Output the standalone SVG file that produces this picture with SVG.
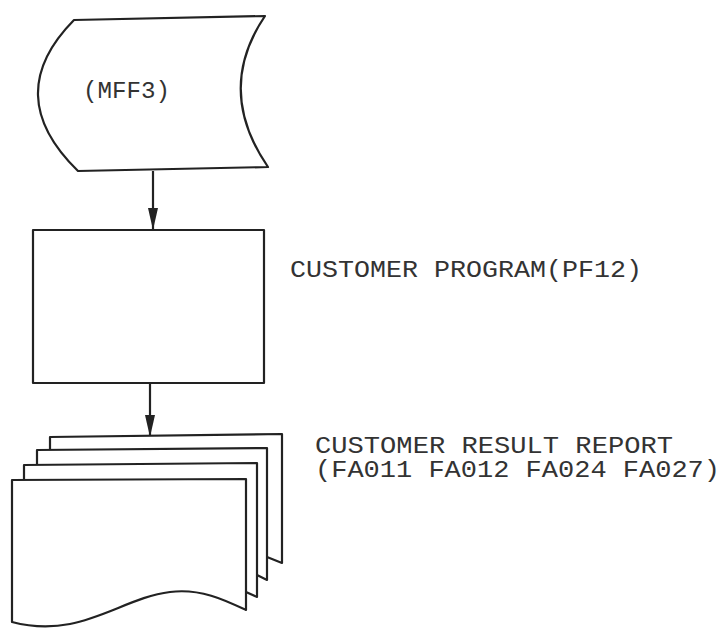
<svg xmlns="http://www.w3.org/2000/svg" width="723" height="630" viewBox="0 0 723 630">
<style>
.s{fill:#fff;stroke:#222;stroke-width:2.2;stroke-linejoin:round}
.l{fill:none;stroke:#222;stroke-width:2.2}
.t{font-family:"Liberation Mono","Courier New",monospace;font-size:23px;fill:#333}
</style>
<defs>
<marker id="ah" markerWidth="22" markerHeight="10" refX="22" refY="5" orient="auto" markerUnits="userSpaceOnUse" viewBox="0 0 22 10">
<path d="M0,0 L22,5 L0,10 Z" fill="#222"/>
</marker>
</defs>
<rect width="723" height="630" fill="#fff"/>
<g id="connectors">
<line class="l" x1="153" y1="171" x2="153" y2="230" marker-end="url(#ah)"/>
<line class="l" x1="150" y1="383" x2="150" y2="437" marker-end="url(#ah)"/>
</g>
<g id="mff3">
<path class="s" d="M74,20 L265,16 Q215,90 268,167 L78,171 Q0,95 74,20 Z"/>
<text class="t" x="83" y="98" textLength="87" lengthAdjust="spacingAndGlyphs">(MFF3)</text>
</g>
<g id="program">
<rect class="s" x="33" y="230" width="231" height="153"/>
<text class="t" x="290" y="277" textLength="352" lengthAdjust="spacingAndGlyphs">CUSTOMER PROGRAM(PF12)</text>
</g>
<g id="report">
<path class="s" d="M50,450 L50,437 L282,434 L282,563 L267,557"/>
<path class="s" d="M37,465 L37,450 L267,448 L267,580 L257,575"/>
<path class="s" d="M24,480 L24,465 L257,463 L257,597 L246,592"/>
<path class="s" d="M12,480 L246,479 L246,610 C225,600 200,588 170,592 C120,598 80,640 12,622 Z"/>
<text class="t" x="315" y="453" textLength="358" lengthAdjust="spacingAndGlyphs">CUSTOMER RESULT REPORT</text>
<text class="t" x="315" y="477" textLength="405" lengthAdjust="spacingAndGlyphs">(FA011 FA012 FA024 FA027)</text>
</g>
</svg>
